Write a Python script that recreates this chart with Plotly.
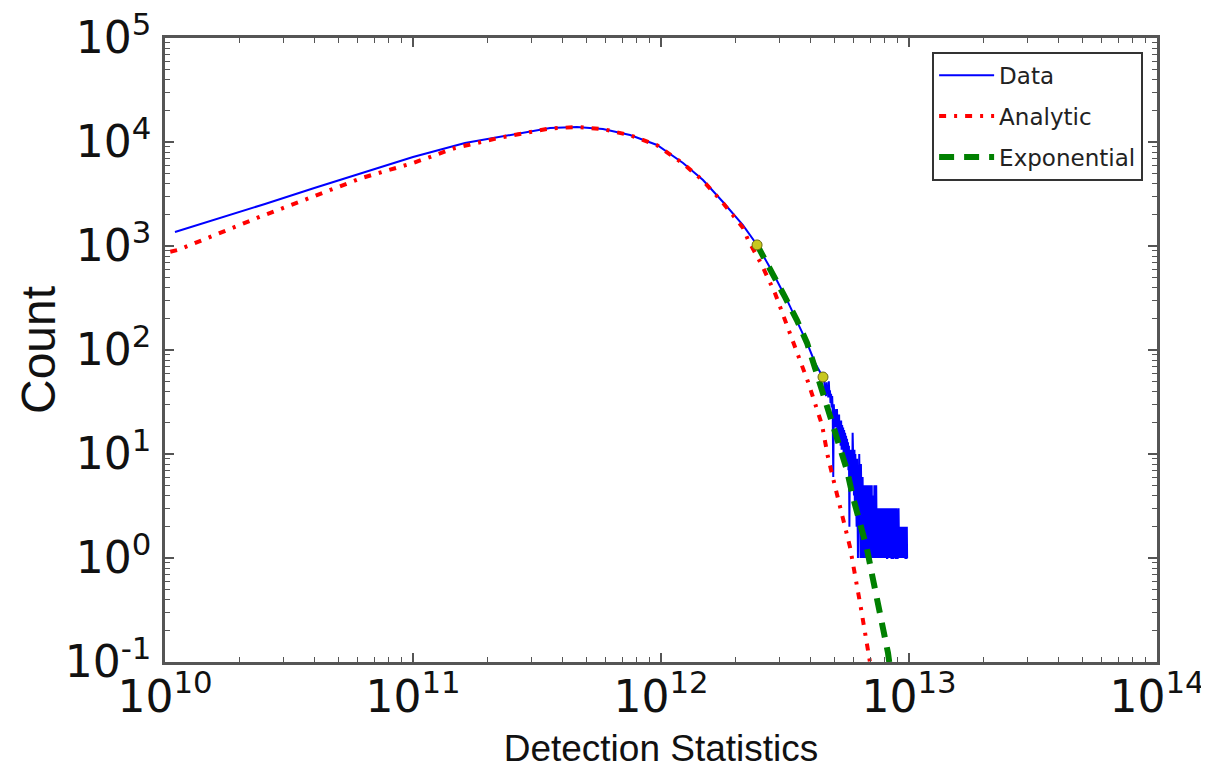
import plotly.graph_objects as go

# ---------------- data ----------------
# Data (histogram) – smooth part
data_x_main = [1.097e10, 1.6e10, 2.53e10, 4.0e10, 6.4e10, 1.0e11, 1.62e11, 2.24e11, 3.57e11,
               4.58e11, 5.83e11, 7.5e11, 9.64e11, 1.227e12, 1.477e12, 1.778e12, 2.14e12,
               2.44e12, 2.83e12, 3.22e12, 3.53e12, 3.88e12, 4.18e12, 4.5e12]
data_y_main = [1365, 1800, 2535, 3610, 5150, 7180, 9770, 11170, 13640,
               13930, 13330, 11670, 9360, 6280, 4310, 2650, 1590,
               1024, 550, 303, 186, 117, 75, 55]

# Data – noisy tail (x in units of 1e12)
tail_x = [4.550, 4.575, 4.600, 4.625, 4.650, 4.675, 4.700, 4.725, 4.750, 4.775,
          4.800, 4.825, 4.850, 4.875, 4.900, 4.925, 4.950, 4.975, 5.000, 5.025,
          5.050, 5.075, 5.100, 5.125, 5.150, 5.175, 5.200, 5.225, 5.250, 5.275,
          5.300, 5.325, 5.350, 5.375, 5.400, 5.425, 5.450, 5.475, 5.500, 5.525,
          5.550, 5.575, 5.600, 5.625, 5.650, 5.675, 5.700, 5.725, 5.750, 5.775,
          5.800, 5.825, 5.850, 5.875, 5.900, 5.925, 5.950, 5.975, 6.000, 6.025,
          6.050, 6.075, 6.100, 6.125, 6.150, 6.175, 6.200, 6.225, 6.250, 6.275,
          6.300, 6.325, 6.350, 6.375, 6.400, 6.425, 6.450, 6.475, 6.500, 6.525,
          6.550, 6.575, 6.600, 6.625, 6.650, 6.675, 6.700, 6.725, 6.750, 6.775,
          6.800, 6.825, 6.850, 6.875, 6.900, 6.925, 6.950, 6.975, 7.000, 7.025,
          7.050, 7.075, 7.100, 7.125, 7.150, 7.175, 7.200, 7.225, 7.250, 7.275,
          7.300, 7.325, 7.350, 7.375, 7.400, 7.425, 7.450, 7.475, 7.500, 7.525,
          7.550, 7.575, 7.600, 7.625, 7.650, 7.675, 7.700, 7.725, 7.750, 7.775,
          7.800, 7.825, 7.850, 7.875, 7.900, 7.925, 7.950, 7.975, 8.000, 8.025,
          8.050, 8.075, 8.100, 8.125, 8.150, 8.175, 8.200, 8.225, 8.250, 8.275,
          8.300, 8.325, 8.350, 8.375, 8.400, 8.425, 8.450, 8.475, 8.500, 8.525,
          8.550, 8.575, 8.600, 8.625, 8.650, 8.675, 8.700, 8.725, 8.750, 8.775,
          8.800, 8.825, 8.850, 8.875, 8.900, 8.925, 8.950, 8.975, 9.000, 9.025,
          9.050, 9.075, 9.100, 9.125, 9.150, 9.175, 9.200, 9.225, 9.250, 9.275,
          9.300, 9.325, 9.350, 9.375, 9.400, 9.425, 9.450, 9.475, 9.500, 9.525,
          9.550, 9.575, 9.600, 9.625, 9.650, 9.675, 9.700, 9.725, 9.750, 9.775,
          9.800, 9.825]
tail_y = [52, 40, 47, 36, 49, 38, 44, 35, 50, 37,
          41, 31, 38, 28, 36, 25, 6, 30, 22, 27,
          18, 26, 20, 27, 16, 22, 15, 24, 14, 20,
          12, 21, 11, 19, 13, 18, 10, 17, 9, 16,
          11, 15, 8, 14, 9, 13, 7, 12, 2, 10,
          6, 11, 7, 10, 5, 16, 6, 9, 4, 11,
          3, 10, 5, 8, 2, 9, 4, 1, 7, 3,
          10, 2, 6, 1, 8, 3, 5, 1, 6, 2,
          5, 1, 4, 2, 5, 1, 3, 5, 1, 4,
          2, 5, 1, 3, 4, 1, 5, 2, 1, 4,
          2, 5, 1, 3, 1, 4, 2, 1, 5, 2,
          1, 3, 1, 5, 2, 1, 3, 1, 2, 3,
          1, 2, 3, 1, 1, 3, 2, 1, 3, 1,
          2, 1, 3, 1, 2, 1, 3, 1, 1, 2,
          1, 3, 1, 2, 1, 1, 3, 1, 2, 1,
          3, 1, 1, 2, 1, 3, 1, 2, 1, 1,
          3, 1, 2, 1, 1, 3, 1, 2, 1, 3,
          1, 2, 1, 1, 3, 1, 2, 1, 1, 2,
          1, 3, 1, 1, 2, 1, 1, 2, 1, 1,
          2, 1, 1, 1, 2, 1, 1, 1, 2, 1,
          1, 1, 2, 1, 1, 1, 1, 2, 1, 1,
          2, 1]

# Analytic curve
analytic_x = [1.05e10, 1.128e10, 2.35e10, 6.22e10, 1.0e11, 1.476e11, 2.24e11, 3.57e11, 4.58e11,
              5.83e11, 7.5e11, 9.64e11, 1.227e12, 1.477e12, 1.778e12, 2.14e12, 2.245e12,
              2.55e12, 2.88e12, 3.37e12, 3.92e12, 4.46e12, 4.71e12, 5.04e12, 5.42e12,
              5.78e12, 6.4e12, 6.9e12, 7.1e12]
analytic_y = [880, 916, 1860, 4510, 6280, 8750, 11000, 13500, 13930,
              13330, 11600, 9300, 6200, 4250, 2600, 1500, 1143,
              656, 353, 133, 49, 19, 9.4, 4.8, 2.48,
              1.28, 0.33, 0.117, 0.075]

# Exponential fit
expo_x = [2.44e12, 2.83e12, 3.16e12, 3.53e12, 3.88e12, 4.18e12, 4.5e12, 4.9e12, 5.28e12,
          5.62e12, 5.94e12, 6.34e12, 6.77e12, 7.1e12, 7.5e12, 7.86e12, 8.23e12, 8.46e12]
expo_y = [1024, 550, 324, 194, 117, 67, 38, 21.2, 12.2,
          7.0, 3.86, 2.17, 1.22, 0.687, 0.378, 0.212, 0.122, 0.075]

# Fit-range end points
fit_x = [2.44e12, 4.5e12]
fit_y = [1024, 55]

x_tick_vals = [1e10, 1e11, 1e12, 1e13, 1e14]
x_tick_text = ["10<sup>10</sup>", "10<sup>11</sup>", "10<sup>12</sup>", "10<sup>13</sup>", "10<sup>14</sup>"]
y_tick_vals = [1e-1, 1e0, 1e1, 1e2, 1e3, 1e4, 1e5]
y_tick_text = ["10<sup>-1</sup>", "10<sup>0</sup>", "10<sup>1</sup>", "10<sup>2</sup>",
               "10<sup>3</sup>", "10<sup>4</sup>", "10<sup>5</sup>"]

# minor ticks (2..9 x each decade) – axis furniture
x_minor = [m * 10.0 ** e for e in range(10, 14) for m in range(2, 10)]
y_minor = [m * 10.0 ** e for e in range(-1, 5) for m in range(2, 10)]

# ---------------- figure ----------------
data_x = data_x_main + [v * 1e12 for v in tail_x]
data_y = data_y_main + tail_y

NB = "\u00a0"

fig = go.Figure()
fig.add_trace(go.Scatter(x=data_x, y=data_y, mode="lines", name="Data" + NB * 2,
                         legendgroup="a",
                         line=dict(color="#0000ff", width=2)))
fig.add_trace(go.Scatter(x=analytic_x, y=analytic_y, mode="lines", name="Analytic",
                         legendgroup="b",
                         line=dict(color="#ff0000", width=4, dash="7px,8px,3px,8px")))
fig.add_trace(go.Scatter(x=expo_x, y=expo_y, mode="lines", name="Exponential",
                         legendgroup="c",
                         line=dict(color="#008000", width=6, dash="15px,10px")))
fig.add_trace(go.Scatter(x=fit_x, y=fit_y, mode="markers", showlegend=False,
                         marker=dict(color="#c8c81e", size=10,
                                     line=dict(color="#6b6b10", width=1))))

axis_common = dict(
    type="log", showgrid=False, zeroline=False, automargin=False,
    showline=True, linecolor="#555555", linewidth=2.5, mirror="allticks",
    ticks="inside", ticklen=9, tickwidth=1.5, tickcolor="#555555",
    ticklabeloverflow="allow",
    tickfont=dict(family="DejaVu Sans", size=44, color="#111111"),
)

fig.update_xaxes(**axis_common, range=[10, 14],
                 tickvals=x_tick_vals, ticktext=x_tick_text, ticklabelstandoff=-6,
                 minor=dict(tickvals=x_minor, ticks="inside", ticklen=5, tickwidth=1.2,
                            tickcolor="#555555", showgrid=False),
                 title=dict(text="Detection Statistics",
                            font=dict(family="Liberation Sans", size=37, color="#111111"),
                            standoff=20))
fig.update_yaxes(**axis_common, range=[-1, 5],
                 tickvals=y_tick_vals, ticktext=y_tick_text, ticklabelstandoff=2,
                 minor=dict(tickvals=y_minor, ticks="inside", ticklen=5, tickwidth=1.2,
                            tickcolor="#555555", showgrid=False))

fig.add_annotation(text="Count", xref="paper", yref="paper", x=-0.128, y=0.5,
                   xanchor="center", yanchor="middle", textangle=-90, showarrow=False,
                   font=dict(family="Liberation Sans", size=48, color="#111111"))

fig.update_layout(
    width=1201, height=761,
    margin=dict(l=157, r=52, t=30, b=107),
    paper_bgcolor="white", plot_bgcolor="white",
    legend=dict(x=0.986, y=0.978, xanchor="right", yanchor="top",
                bgcolor="white", bordercolor="#333333", borderwidth=2,
                font=dict(family="DejaVu Sans", size=23, color="#222222"),
                itemwidth=55, tracegroupgap=8),
)

fig.write_html("out.html")
